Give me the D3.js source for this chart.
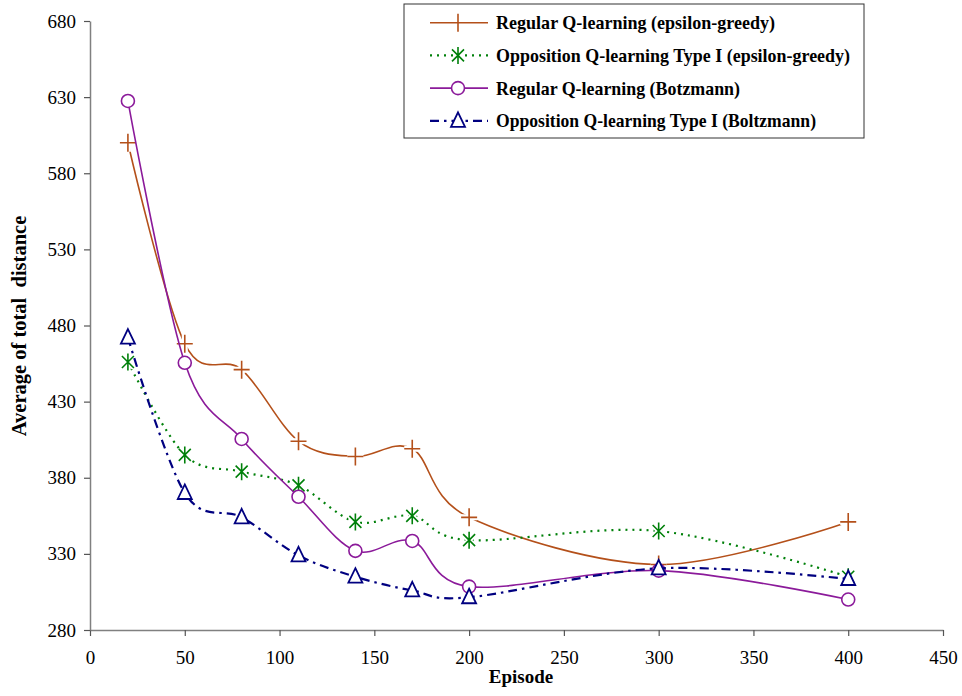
<!DOCTYPE html>
<html>
<head>
<meta charset="utf-8">
<script src="https://cdn.jsdelivr.net/npm/d3@7"></script>
<style>
  body { margin: 0; background: #fff; }
  text { font-family: "Liberation Serif", "Times New Roman", serif; }
</style>
</head>
<body>
<div id="chart"></div>
<script>
// data
const episodes = [20, 50, 80, 110, 140, 170, 200, 300, 400];
const regularGreedy = [600, 468, 451, 404, 394, 399, 354, 323, 351];
const oppGreedy = [456, 395, 384, 375, 351, 355, 339, 345, 315];
const regularBoltz = [627.5, 455.5, 405.5, 367.5, 332, 338.5, 308.5, 319, 300];
const oppBoltz = [472, 370, 354, 329, 315, 306, 301.5, 320.5, 313.5];
const xTicks = [0, 50, 100, 150, 200, 250, 300, 350, 400, 450];
const yTicks = [280, 330, 380, 430, 480, 530, 580, 630, 680];

const W = 962, H = 696;
const svg = d3.select("#chart").append("svg")
    .attr("width", W).attr("height", H);

const x = d3.scaleLinear().domain([0, 450]).range([90, 943]);
const y = d3.scaleLinear().domain([280, 680]).range([630, 21]);

// axes
const xAxis = svg.append("g")
    .attr("transform", `translate(0,${y(280)})`)
    .call(d3.axisBottom(x).tickValues(xTicks).tickSize(6).tickPadding(15).tickSizeOuter(0));
const yAxis = svg.append("g")
    .attr("transform", `translate(${x(0)},0)`)
    .call(d3.axisLeft(y).tickValues(yTicks).tickSize(6).tickPadding(8).tickSizeOuter(0));
[xAxis, yAxis].forEach(a => {
    a.select(".domain").attr("stroke", "#808080").attr("stroke-width", 1.5);
    a.selectAll(".tick line").attr("stroke", "#555").attr("stroke-width", 1.2);
    a.selectAll(".tick text")
        .style("font-family", "'Liberation Serif', serif")
        .style("font-size", "19px")
        .attr("fill", "#000");
});

svg.append("text")
    .attr("x", 521).attr("y", 683)
    .attr("text-anchor", "middle")
    .style("font-size", "19px").style("font-weight", "bold")
    .text("Episode");

svg.append("text")
    .attr("transform", "translate(26,326) rotate(-90)")
    .attr("text-anchor", "middle")
    .style("font-size", "20.5px").style("font-weight", "bold")
    .style("white-space", "pre")
    .text("Average of total  distance");

// series definitions (textW = legend text width in the reference)
const series = [
    { name: "Regular Q-learning (epsilon-greedy)", values: regularGreedy, color: "#B4501A", dash: null, width: 1.6, marker: "plus", textW: 279 },
    { name: "Opposition Q-learning Type I (epsilon-greedy)", values: oppGreedy, color: "#00800A", dash: "2,5", width: 2.2, marker: "star", textW: 354 },
    { name: "Regular Q-learning (Botzmann)", values: regularBoltz, color: "#8B1A9A", dash: null, width: 1.6, marker: "circle", textW: 244 },
    { name: "Opposition Q-learning Type I (Boltzmann)", values: oppBoltz, color: "#000080", dash: "9,5,2.5,5", width: 2.2, marker: "triangle", textW: 320 }
];

const line = d3.line()
    .x(d => x(d[0]))
    .y(d => y(d[1]))
    .curve(d3.curveCatmullRom.alpha(0));

function drawMarker(g, type, color) {
    if (type === "plus") {
        g.append("path").attr("d", "M-8,0H8M0,-9V9")
            .attr("stroke", "#fff").attr("stroke-width", 6).attr("fill", "none");
        g.append("path").attr("d", "M-8,0H8M0,-9V9")
            .attr("stroke", color).attr("stroke-width", 1.6).attr("fill", "none");
    } else if (type === "star") {
        const p = "M-6,-6L6,6M-6,6L6,-6M0,-8.5V8.5";
        g.append("path").attr("d", p)
            .attr("stroke", "#fff").attr("stroke-width", 5).attr("fill", "none");
        g.append("path").attr("d", p)
            .attr("stroke", color).attr("stroke-width", 1.6).attr("fill", "none");
    } else if (type === "circle") {
        g.append("circle").attr("r", 6.5)
            .attr("fill", "#fff").attr("stroke", color).attr("stroke-width", 1.6);
    } else {
        g.append("path").attr("d", "M0,-8.5L7,6L-7,6Z")
            .attr("fill", "#fff").attr("stroke", color).attr("stroke-width", 1.8);
    }
}

series.forEach(s => {
    const pts = episodes.map((e, i) => [e, s.values[i]]);
    svg.append("path")
        .attr("d", line(pts))
        .attr("fill", "none")
        .attr("stroke", s.color)
        .attr("stroke-width", s.width)
        .attr("stroke-dasharray", s.dash);
    pts.forEach(p => {
        const g = svg.append("g").attr("transform", `translate(${x(p[0])},${y(p[1])})`);
        drawMarker(g, s.marker, s.color);
    });
});

// legend
const legend = svg.append("g").attr("transform", "translate(404,4)");
legend.append("rect")
    .attr("x", 0).attr("y", 0).attr("width", 460).attr("height", 134)
    .attr("fill", "#fff").attr("stroke", "#333").attr("stroke-width", 1);
series.forEach((s, i) => {
    const ly = 18.7 + i * 32.7;
    const row = legend.append("g").attr("transform", `translate(0,${ly})`);
    row.append("line")
        .attr("x1", 26).attr("x2", 84)
        .attr("stroke", s.color).attr("stroke-width", s.width)
        .attr("stroke-dasharray", s.dash);
    const m = row.append("g").attr("transform", "translate(54,0)");
    drawMarker(m, s.marker, s.color);
    row.append("text")
        .attr("x", 92).attr("y", 6.5)
        .attr("textLength", s.textW)
        .attr("lengthAdjust", "spacingAndGlyphs")
        .style("font-size", "19.5px").style("font-weight", "bold")
        .text(s.name);
});
</script>
</body>
</html>
